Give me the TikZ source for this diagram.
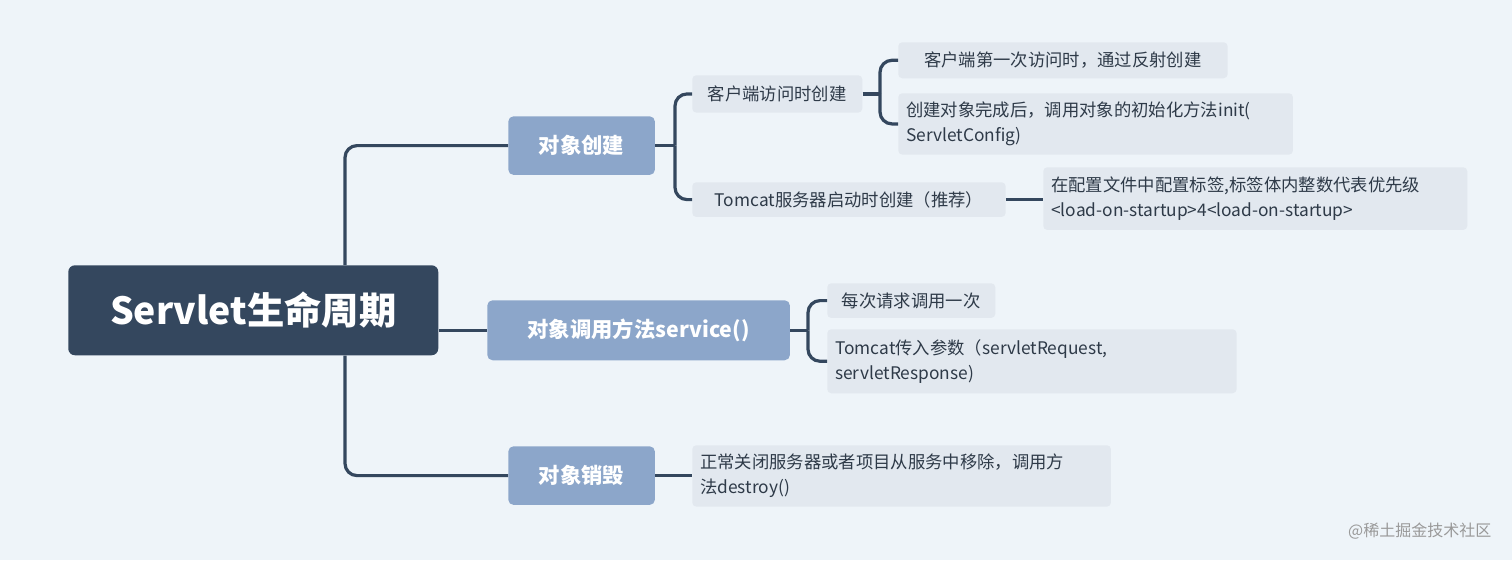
\documentclass[tikz,border=0pt]{standalone}
\usepackage{fontspec}
\setmainfont{Noto Sans CJK SC}
\newfontfamily\cjkb{Noto Sans CJK SC Bold}
\begin{document}
\begin{tikzpicture}[x=0.75pt,y=-0.75pt,
  conn/.style={draw=rootc,line width=2.4pt,rounded corners=9pt},
  l1/.style={fill=l1c,rounded corners=4pt,text=white,font=\fontsize{16}{19}\selectfont\bfseries,anchor=north west,inner sep=0pt},
  l2/.style={fill=l2c,rounded corners=3pt,text=txt,font=\fontsize{13}{19}\selectfont,anchor=north west,align=left,inner xsep=6pt,inner ysep=0pt}]
\definecolor{bg}{HTML}{EEF4F9}
\definecolor{rootc}{HTML}{34475E}
\definecolor{l1c}{HTML}{8CA6CA}
\definecolor{l2c}{HTML}{E2E8EF}
\definecolor{txt}{HTML}{2E3A48}
\fill[bg] (0,0) rectangle (1512,560);
\useasboundingbox (0,0) rectangle (1512,560);
% nodes
\node[fill=rootc,rounded corners=5pt,text=white,font=\fontsize{28}{32}\selectfont\bfseries,minimum width=277.5pt,minimum height=67.5pt,anchor=north west,inner sep=0pt] (root) at (68,265) {Servlet生命周期};
\node[l1,minimum width=110pt,minimum height=44pt] (c1) at (508,116) {对象创建};
\node[l1,minimum width=227pt,minimum height=45pt] (c2) at (487,300) {对象调用方法service()};
\node[l1,minimum width=110pt,minimum height=44pt] (c3) at (508,446) {对象销毁};
\node[l2,minimum width=127.5pt,minimum height=28pt] (a1) at (692,75) {客户端访问时创建};
\node[l2,minimum width=235pt,minimum height=26pt] (a2) at (692,182) {Tomcat服务器启动时创建（推荐）};
\node[l2,minimum width=247pt,minimum height=27pt] (a11) at (898,42) {客户端第一次访问时，通过反射创建};
\node[l2,text width=284pt,minimum height=46pt] (a12) at (898,93) {创建对象完成后，调用对象的初始化方法init(\\ServletConfig)};
\node[l2,text width=306pt,minimum height=47pt] (a21) at (1043,167) {在配置文件中配置标签,标签体内整数代表优先级\\<load-on-startup>4<load-on-startup>};
\node[l2,minimum width=126pt,minimum height=26pt] (b1) at (827,283) {每次请求调用一次};
\node[l2,text width=295pt,minimum height=48pt] (b2) at (827,329) {Tomcat传入参数（servletRequest,\\servletResponse)};
\node[l2,text width=302pt,minimum height=46pt] (d1) at (692,445) {正常关闭服务器或者项目从服务中移除，调用方\\法destroy()};
\node[text=gray!80,font=\fontsize{12}{14}\selectfont,anchor=east] (wm) at (1496,531) {@稀土掘金技术社区};
% connectors
\coordinate (sp) at (345,0);
\coordinate (k1) at (675,0);
\coordinate (k2) at (880,0);
\coordinate (k3) at (808,0);
\draw[conn] (root.north -| sp) |- (c1.west);
\draw[conn] (root.south -| sp) |- (c3.west);
\draw[conn] (root.east |- c2.west) -- (c2.west);
\draw[conn] (c1.east) -- (c1.east -| k1);
\draw[conn] (c1.east -| k1) |- (a1.west);
\draw[conn] (c1.east -| k1) |- (a2.west);
\draw[conn] (a1.east) -- (a1.east -| k2);
\draw[conn] (a1.east -| k2) |- (a11.west);
\draw[conn] (a1.east -| k2) |- (a12.west);
\draw[conn] (a2.east) -- (a2.east -| a21.west);
\draw[conn] (c2.east) -- (c2.east -| k3);
\draw[conn] (c2.east -| k3) |- (b1.west);
\draw[conn] (c2.east -| k3) |- (b2.west);
\draw[conn] (c3.east) -- (d1.west |- c3.east);
\end{tikzpicture}
\end{document}
